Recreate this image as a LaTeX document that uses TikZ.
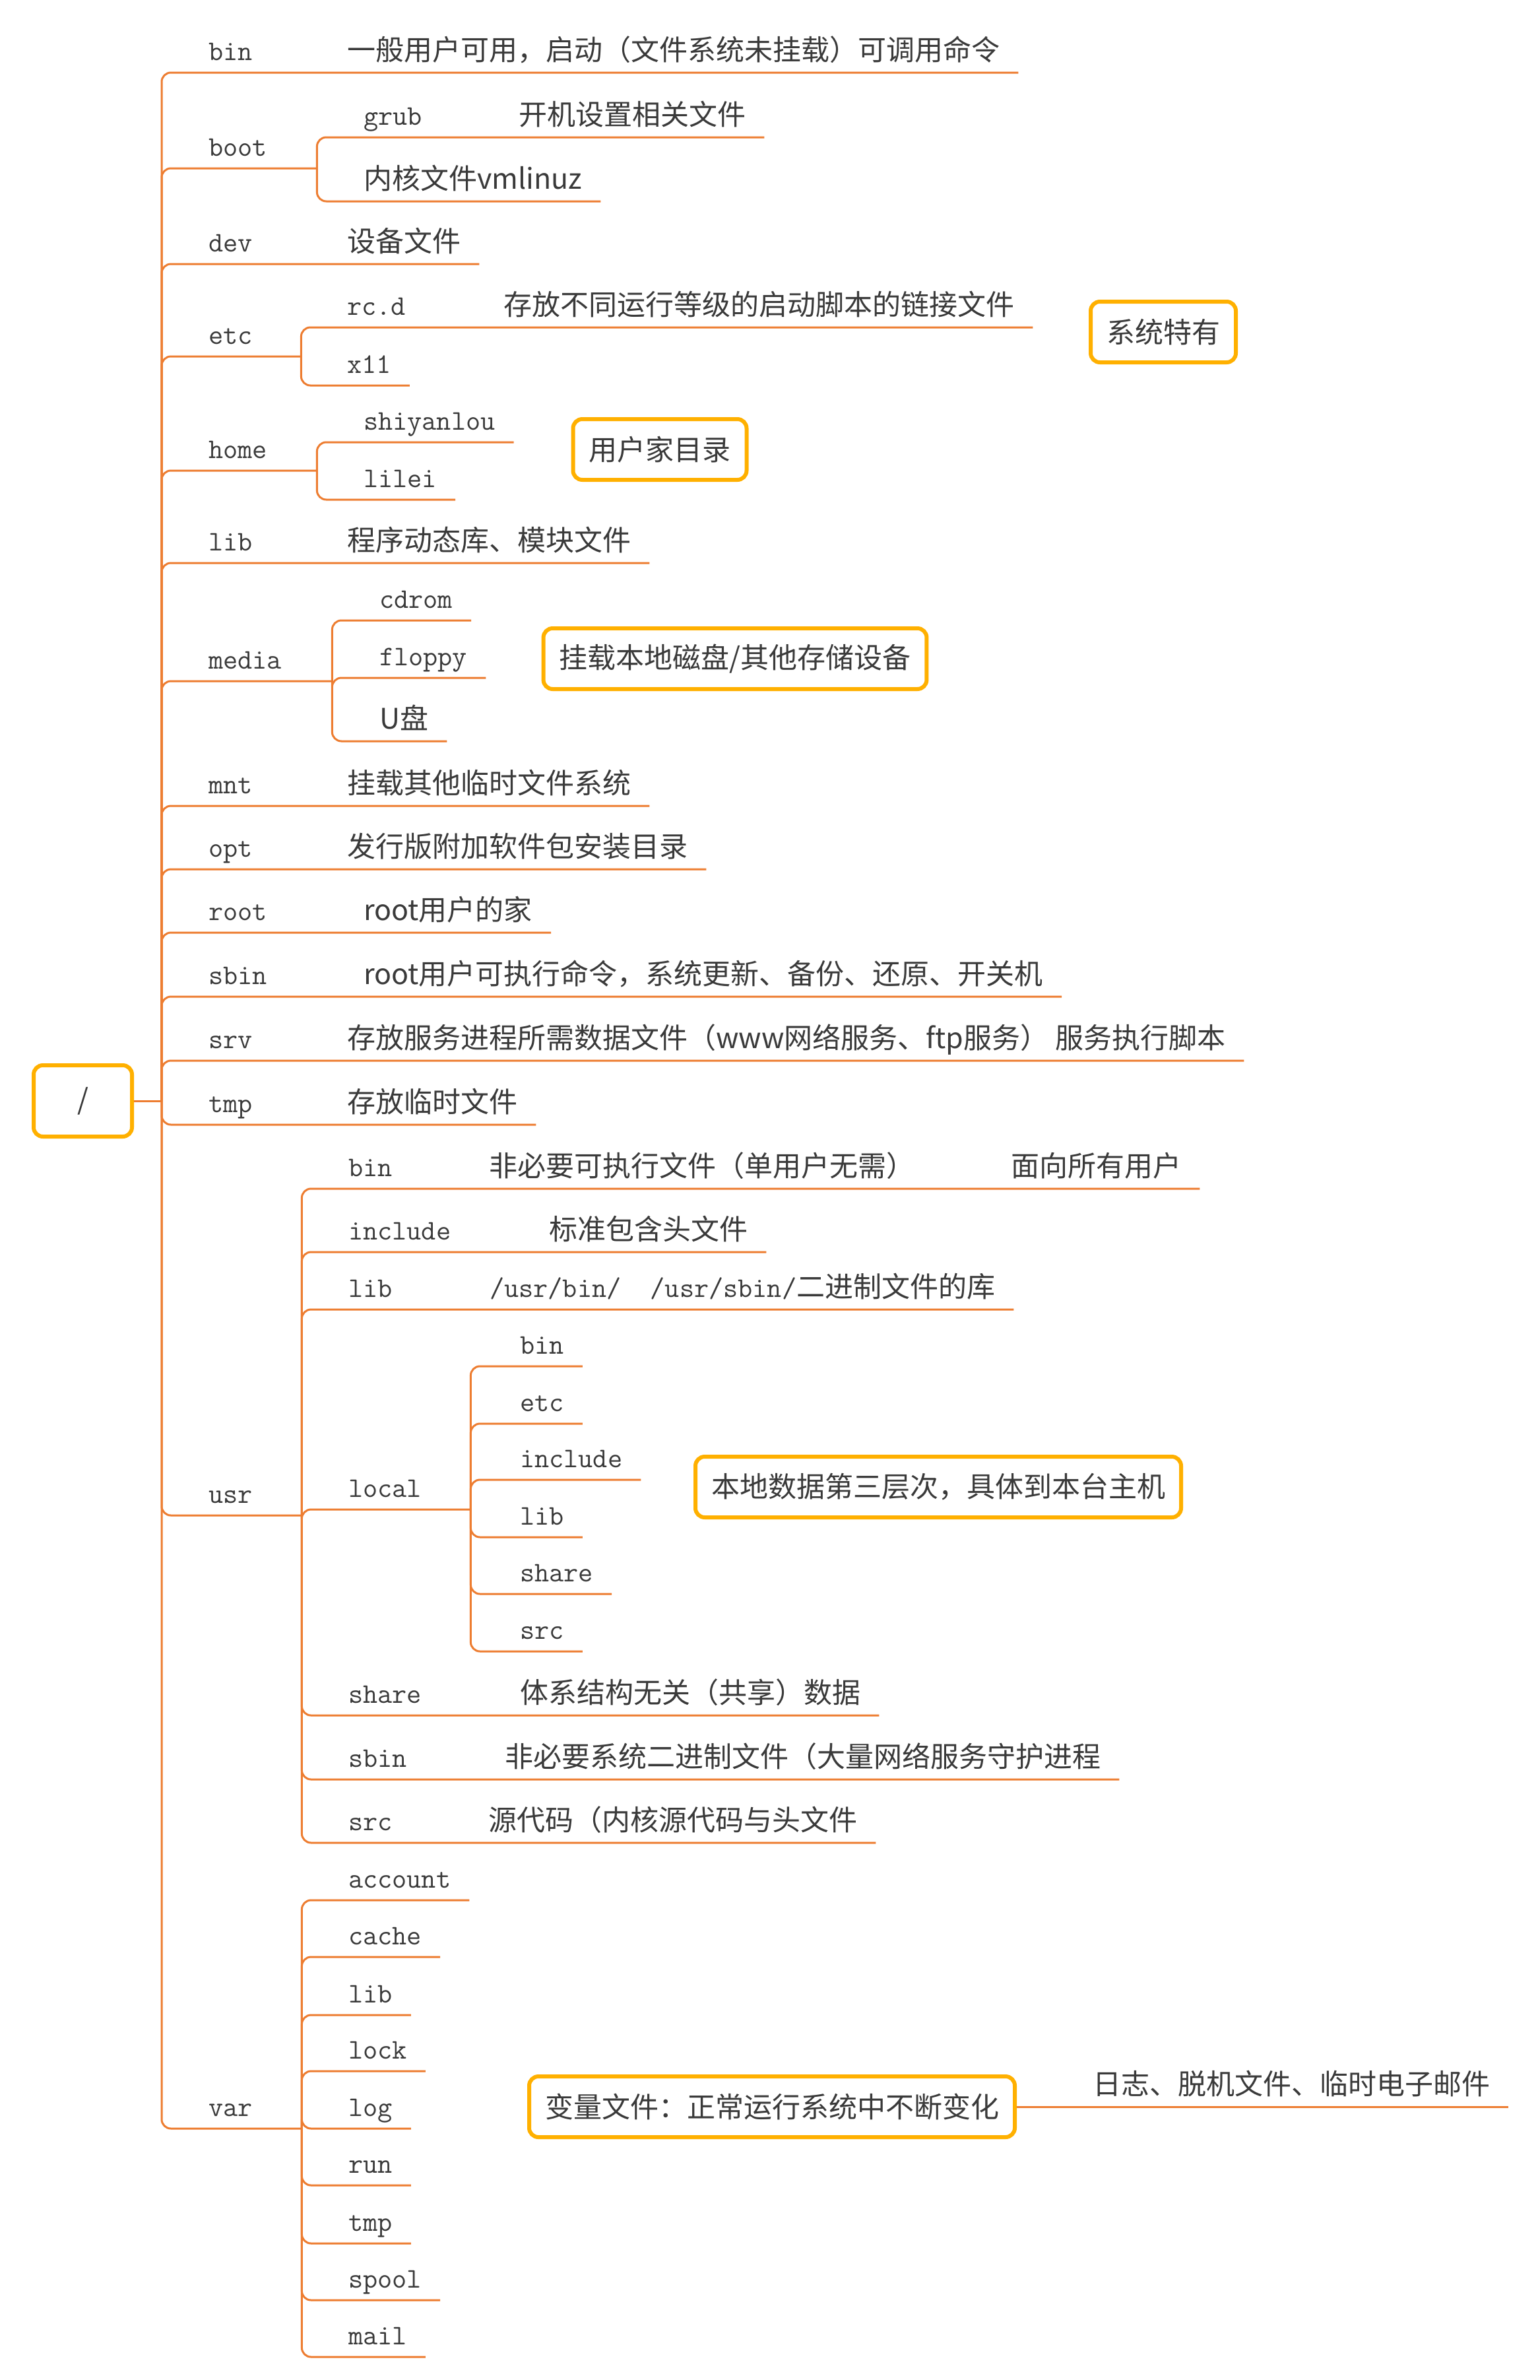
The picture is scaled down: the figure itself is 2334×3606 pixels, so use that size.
\documentclass[tikz,border=0pt]{standalone}
\usepackage{fontspec}
\setmainfont{Noto Sans CJK SC}
\definecolor{branch}{RGB}{237,125,49}
\definecolor{amber}{RGB}{255,176,0}
\definecolor{ink}{RGB}{58,58,58}
\newcommand{\lb}[2]{\makebox[#1pt][l]{\ttfamily #2}}

\begin{document}
\begin{tikzpicture}[x=1pt,y=-1pt,
        every node/.style={text=ink,font=\fontsize{43}{50}\selectfont},
        topic/.style={anchor=south west,inner xsep=0pt,inner ysep=18pt,text depth=0pt,
            execute at end node=\hspace*{28pt}},
        grp/.style={anchor=south west,inner xsep=0pt,inner ysep=18pt,text depth=0pt},
        note/.style={draw=amber,line width=6pt,rounded corners=14pt,fill=white,
            inner xsep=24pt,minimum height=92pt},
        link/.style={draw=branch,line width=3pt,rounded corners=14pt}]
            \useasboundingbox (0,0) rectangle (2334,3606);

            \node[note,minimum width=149pt,minimum height=108pt] (slash) at (125.5,1668) {/};
            \coordinate (rj) at (245,1668);

            % first level
            \node[topic] (bin)   at (316,110)  {\lb{210}{bin}一般用户可用，启动（文件系统未挂载）可调用命令};
            \node[grp]   (boot)  at (316,255)  {\lb{164}{boot}};
            \node[topic] (dev)   at (316,400)  {\lb{210}{dev}设备文件};
            \node[grp]   (etc)   at (316,540)  {\lb{140}{etc}};
            \node[grp]   (home)  at (316,713)  {\lb{164}{home}};
            \node[topic] (lib)   at (316,853)  {\lb{210}{lib}程序动态库、模块文件};
            \node[grp]   (media) at (316,1032) {\lb{187}{media}};
            \node[topic] (mnt)   at (316,1221) {\lb{210}{mnt}挂载其他临时文件系统};
            \node[topic] (opt)   at (316,1317) {\lb{210}{opt}发行版附加软件包安装目录};
            \node[topic] (root)  at (316,1413) {\lb{235}{root}root用户的家};
            \node[topic] (sbin)  at (316,1510) {\lb{235}{sbin}root用户可执行命令，系统更新、备份、还原、开关机};
            \node[topic] (srv)   at (316,1607) {\lb{210}{srv}存放服务进程所需数据文件（www网络服务、ftp服务） 服务执行脚本};
            \node[topic] (tmp)   at (316,1704) {\lb{210}{tmp}存放临时文件};
            \node[grp]   (usr)   at (316,2296) {\lb{141}{usr}};
            \node[grp]   (var)   at (316,3225) {\lb{141}{var}};

            \draw[link] (slash.east) -- (rj);
            \foreach \n in {bin,boot,dev,etc,home,lib,media,mnt,opt,root,sbin,srv,tmp,usr,var}
                \draw[link] (rj) |- (\n.south east);

            % boot, etc, home, media
            \node[topic] (grub)      at (551,208)  {\lb{235}{grub}开机设置相关文件};
            \node[topic] (vmlinuz)   at (551,305)  {内核文件vmlinuz};
            \node[topic] (rcd)       at (526,496)  {\lb{237}{rc.d}存放不同运行等级的启动脚本的链接文件};
            \node[topic] (x11)       at (526,584)  {\ttfamily x11};
            \node[topic] (shiyanlou) at (551,670)  {\ttfamily shiyanlou};
            \node[topic] (lilei)     at (551,757)  {\ttfamily lilei};
            \node[topic] (cdrom)     at (575,940)  {\ttfamily cdrom};
            \node[topic] (floppy)    at (575,1027) {\ttfamily floppy};
            \node[topic] (upan)      at (575,1123) {U盘};

            \path[link]
                (boot.south east)  |- (grub.south east)
                (boot.south east)  |- (vmlinuz.south east)
                (etc.south east)   |- (rcd.south east)
                (etc.south east)   |- (x11.south east)
                (home.south east)  |- (shiyanlou.south east)
                (home.south east)  |- (lilei.south east)
                (media.south east) |- (cdrom.south east)
                (media.south east) |- (floppy.south east)
                (media.south east) |- (upan.south east);

            % usr
            \node[topic] (ubin)   at (528,1801) {\lb{213}{bin}\makebox[791pt][l]{非必要可执行文件（单用户无需）}面向所有用户};
            \node[topic] (uinc)   at (528,1897) {\lb{304}{include}标准包含头文件};
            \node[topic] (ulib)   at (528,1984) {\lb{214}{lib}{\ttfamily/usr/bin/\ \ /usr/sbin/}二进制文件的库};
            \node[grp]   (local)  at (528,2287) {\lb{185}{local}};
            \node[topic] (ushare) at (528,2599) {\lb{260}{share}体系结构无关（共享）数据};
            \node[topic] (usbin)  at (528,2696) {\lb{237}{sbin}非必要系统二进制文件（大量网络服务守护进程};
            \node[topic] (usrc)   at (528,2792) {\lb{212}{src}源代码（内核源代码与头文件};
            \foreach \n in {ubin,uinc,ulib,local,ushare,usbin,usrc}
                \draw[link] (usr.south east) |- (\n.south east);

            \foreach \n/\y in {bin/2070,etc/2157,include/2242,lib/2329,share/2415,src/2502}{
                \node[topic] (l\n) at (788,\y) {\ttfamily\n};
                \draw[link] (local.south east) |- (l\n.south east);
            }

            % var
            \foreach \n/\y in {account/2879,cache/2965,lib/3053,lock/3138,log/3225,run/3311,tmp/3399,spool/3485,mail/3571}{
                \node[topic] (v\n) at (528,\y) {\ttfamily\n};
                \draw[link] (var.south east) |- (v\n.south east);
            }

            % notes
            \node[note] (sysnote)   at (1763,503)  {系统特有};
            \node[note] (homenote)  at (1000,681)  {用户家目录};
            \node[note] (medianote) at (1114,998)  {挂载本地磁盘/其他存储设备};
            \node[note] (localnote) at (1422,2253) {本地数据第三层次，具体到本台主机};
            \node[note] (varnote)   at (1170,3192) {变量文件：正常运行系统中不断变化};
            \node[topic] (varlog)   at (1656,3192) {日志、脱机文件、临时电子邮件};
            \draw[link] (varnote.east) -- (varlog.south east);
\end{tikzpicture}
\end{document}
